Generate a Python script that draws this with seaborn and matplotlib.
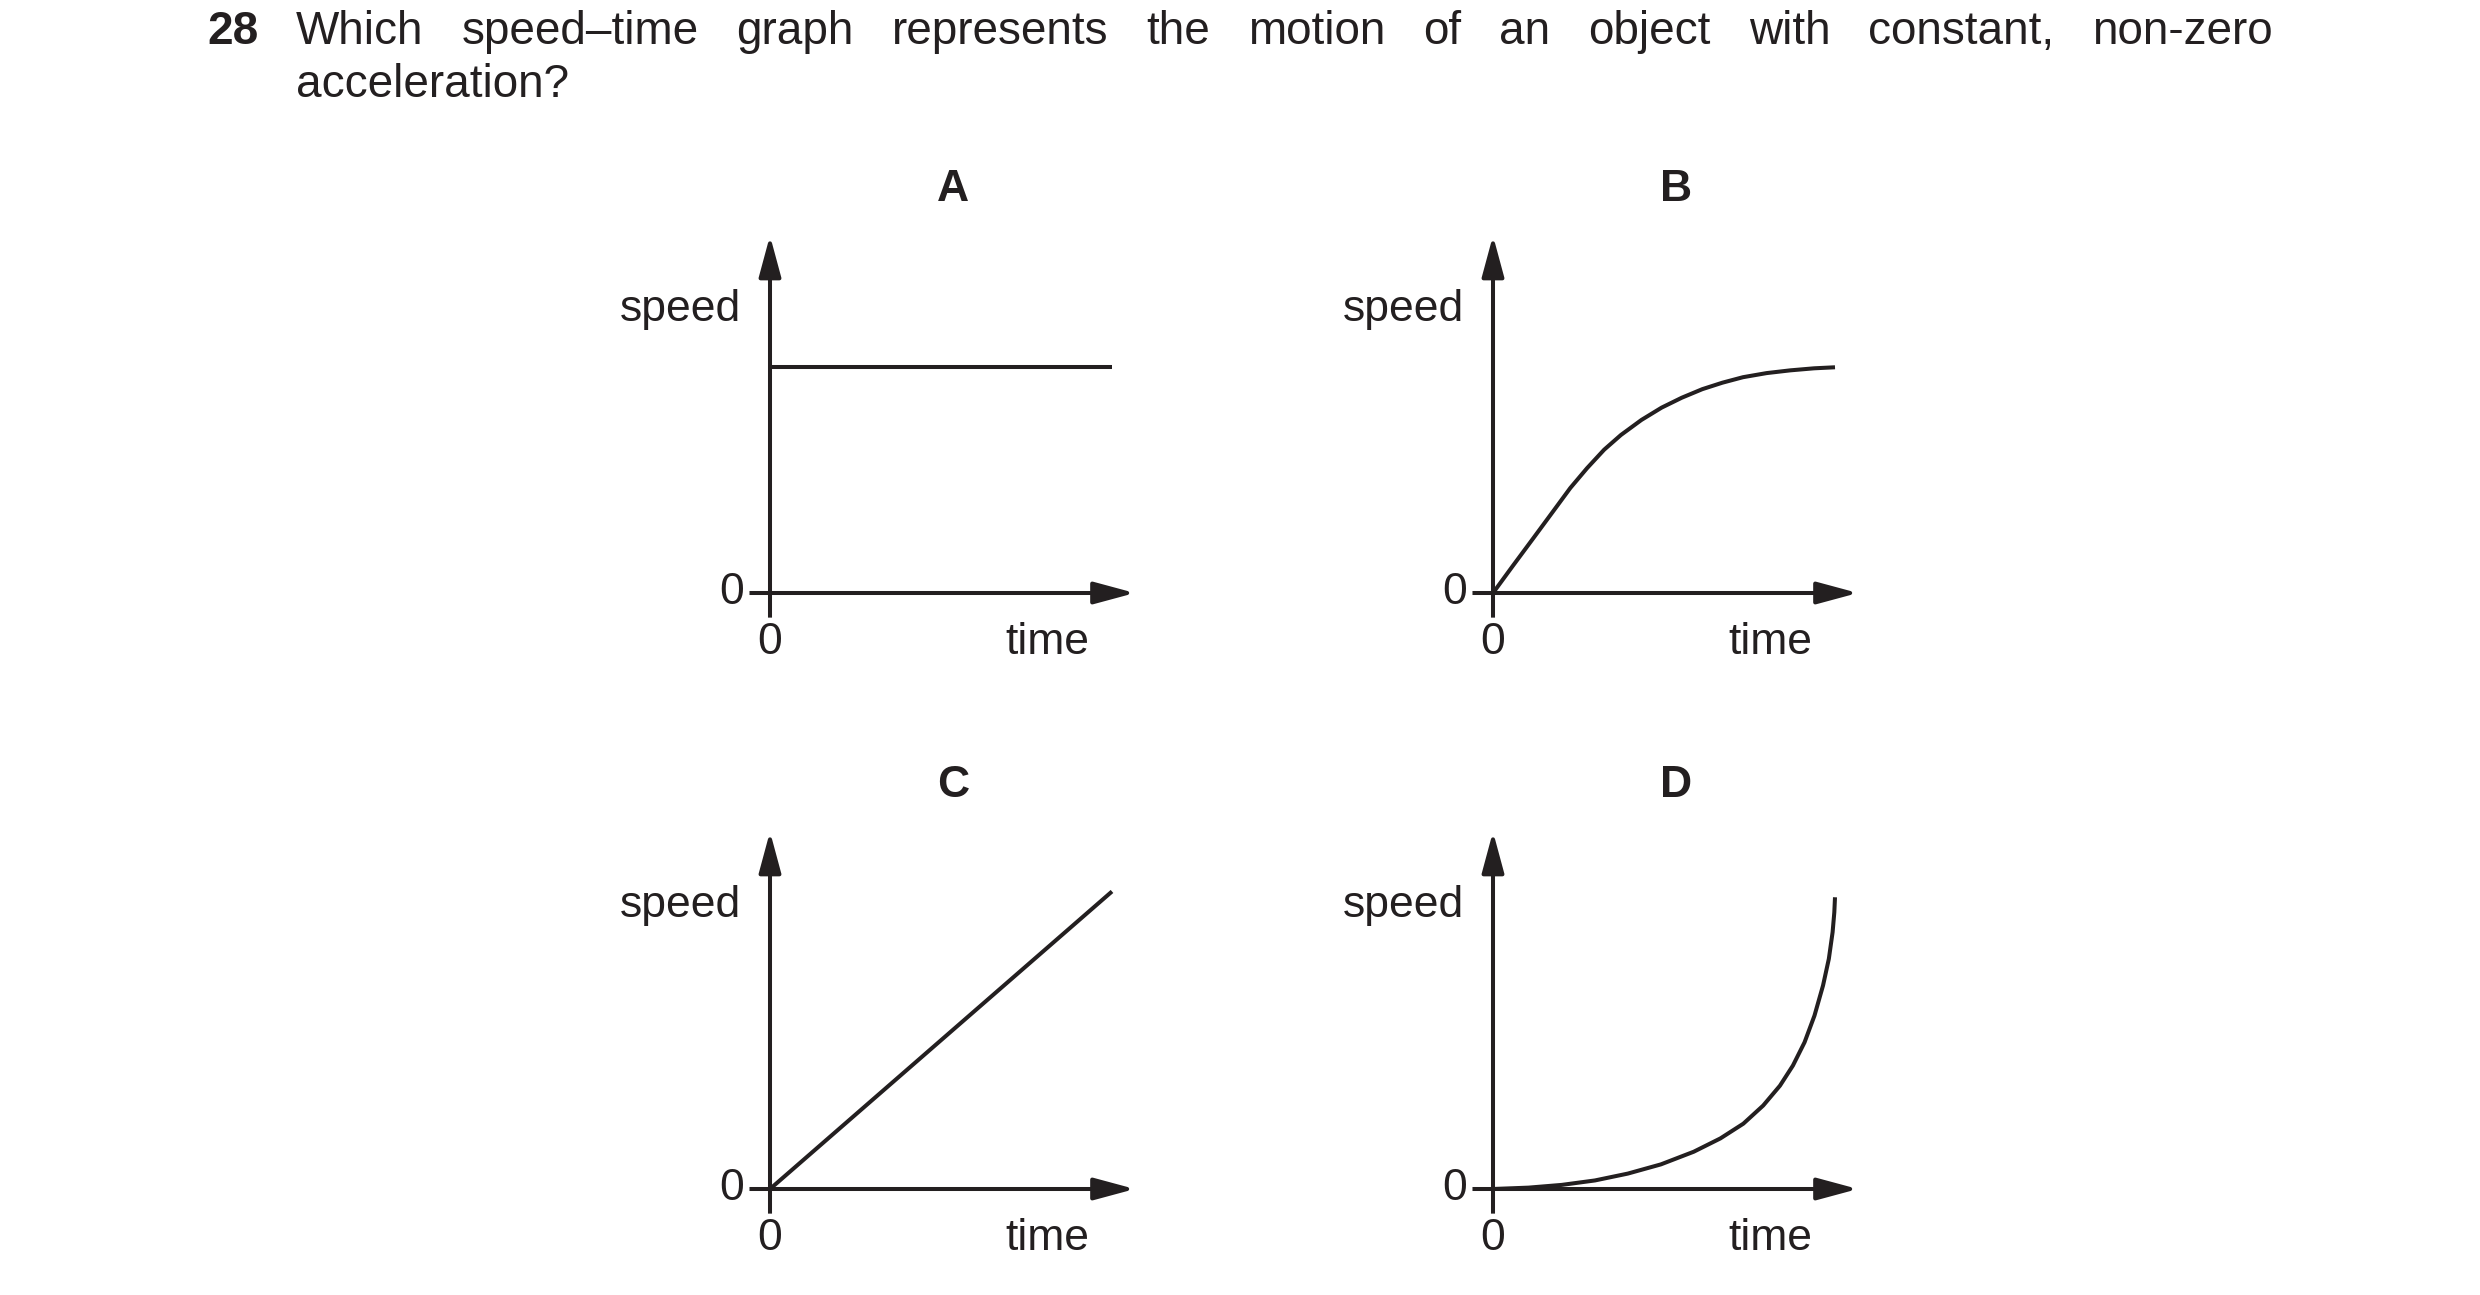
import numpy as np
import pandas as pd
import matplotlib
matplotlib.use("Agg")
import matplotlib.pyplot as plt
import seaborn as sns

# Values (time 0..10, speed in the same units)
times_a = [0, 10]
speed_a = [6.6, 6.6]

times_b = [0, 0.57, 1.17, 1.76, 2.26, 2.75, 3.25, 3.74, 4.34, 4.93, 5.52, 6.12,
           6.71, 7.31, 8.0, 8.69, 9.39, 10]
speed_b = [0, 0.78, 1.59, 2.39, 3.07, 3.65, 4.19, 4.62, 5.06, 5.42, 5.71, 5.96,
           6.15, 6.31, 6.43, 6.51, 6.57, 6.6]

times_c = [0, 10]
speed_c = [0, 8.7]

times_d = [0, 1.04, 2.01, 2.98, 3.94, 4.91, 5.87, 6.65, 7.32, 7.9, 8.39, 8.77,
           9.11, 9.4, 9.65, 9.82, 9.93, 9.98, 10.0]
speed_d = [0, 0.04, 0.12, 0.25, 0.45, 0.72, 1.09, 1.48, 1.91, 2.44, 3.02, 3.61,
           4.29, 5.07, 5.95, 6.73, 7.51, 8.09, 8.53]

panel_labels = ["A", "B", "C", "D"]
question_no = "28"
question_line1 = ["Which", "speed\u2013time", "graph", "represents", "the", "motion",
                  "of", "an", "object", "with", "constant,", "non-zero"]
question_line2 = "acceleration?"

ink = "#231f20"
W, H = 2480, 1295

sns.set_style("white")
plt.rcParams["font.family"] = ["Liberation Sans", "DejaVu Sans"]

fig = plt.figure(figsize=(W / 100, H / 100), dpi=100)
fig.patch.set_facecolor("white")

# pixel layout of each panel origin (x, y from top)
origins = [(770, 593), (1493, 593), (770, 1189), (1493, 1189)]
unit = 34.2
xlim = (-5.0, 11.5)
ylim = (-2.5, 12.5)

panels = [
    pd.DataFrame({"time": times_a, "speed": speed_a}),
    pd.DataFrame({"time": times_b, "speed": speed_b}),
    pd.DataFrame({"time": times_c, "speed": speed_c}),
    pd.DataFrame({"time": times_d, "speed": speed_d}),
]

lw = 2.9
for (ox, oy), df, lab in zip(origins, panels, panel_labels):
    left = ox + xlim[0] * unit
    bottom = (H - oy) + ylim[0] * unit
    w = (xlim[1] - xlim[0]) * unit
    h = (ylim[1] - ylim[0]) * unit
    ax = fig.add_axes([left / W, bottom / H, w / W, h / H])
    ax.set_xlim(*xlim)
    ax.set_ylim(*ylim)
    ax.axis("off")

    sns.lineplot(data=df, x="time", y="speed", ax=ax, color=ink, lw=lw,
                 sort=False, estimator=None, solid_capstyle="butt",
                 solid_joinstyle="round")

    # axes drawn as arrows
    arrow = dict(arrowstyle="-|>,head_length=1.26,head_width=0.34", lw=lw, color=ink,
                 mutation_scale=20, shrinkA=0, shrinkB=0, capstyle="butt")
    ax.annotate("", xy=(10.67, 0), xytext=(-0.6, 0), arrowprops=arrow)
    ax.annotate("", xy=(0, 10.45), xytext=(0, -0.72), arrowprops=arrow)

    fs = 32
    ax.text(-0.85, 8.3, "speed", ha="right", va="center", fontsize=fs, color=ink)
    ax.text(-0.75, 0, "0", ha="right", va="center", fontsize=fs, color=ink)
    ax.text(0, -0.85, "0", ha="center", va="top", fontsize=fs, color=ink)
    ax.text(8.1, -0.85, "time", ha="center", va="top", fontsize=fs, color=ink)
    ax.text(5.35, 11.8, lab, ha="center", va="center", fontsize=32, fontweight="bold", color=ink)

# question text, first line justified between two edges
tfs = 33
y1 = 1 - 32 / H
y2 = 1 - 85 / H
fig.text(207 / W, y1, question_no, ha="left", va="center", fontsize=tfs, fontweight="bold", color=ink)
renderer = fig.canvas.get_renderer()
x_start, x_end = 296, 2273
texts = [fig.text(0, y1, wd, ha="left", va="center", fontsize=tfs, color=ink) for wd in question_line1]
widths = [t.get_window_extent(renderer=renderer).width for t in texts]
gap = (x_end - x_start - sum(widths)) / (len(texts) - 1)
x = x_start
for t, wd in zip(texts, widths):
    t.set_x(x / W)
    x += wd + gap
fig.text(x_start / W, y2, question_line2, ha="left", va="center", fontsize=tfs, color=ink)

fig.savefig("out.png", dpi=100, facecolor="white")
